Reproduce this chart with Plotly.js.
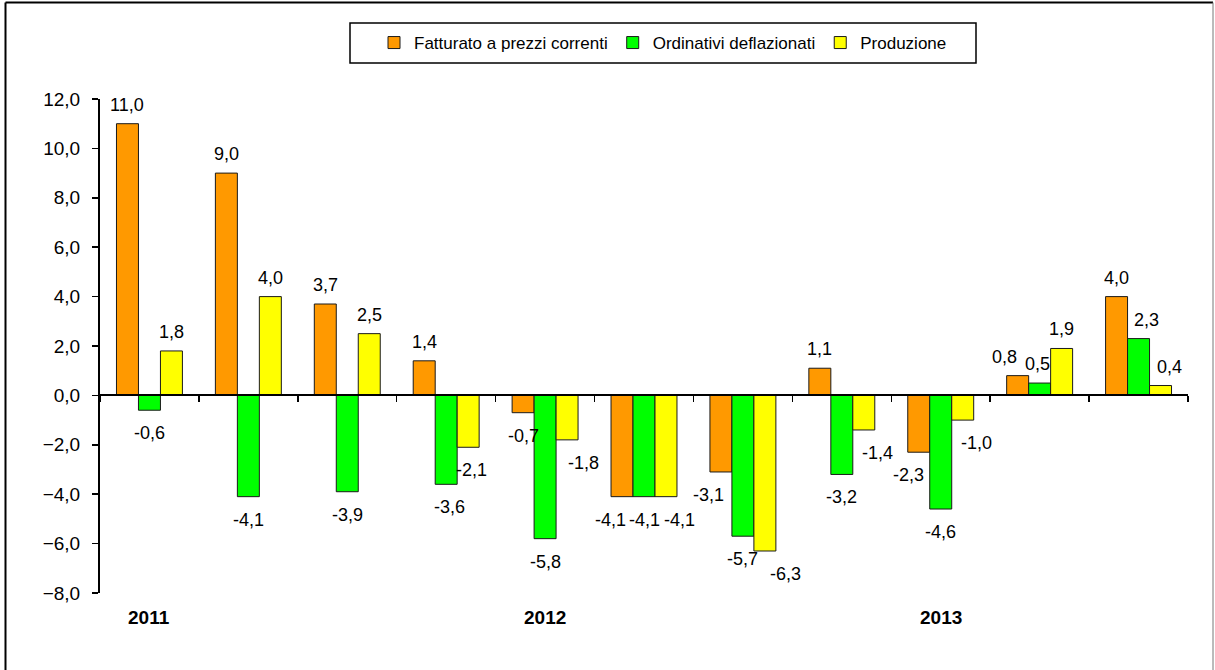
<!DOCTYPE html>
<html>
<head>
<meta charset="utf-8">
<script src="https://cdn.plot.ly/plotly-3.0.1.min.js"></script>
<style>html,body{margin:0;padding:0;background:#fff;}#chart{width:1215px;height:670px;}</style>
</head>
<body>
<div id="chart"></div>
<script>
// ---- data ----
const periods = [0, 1, 2, 3, 4, 5, 6, 7, 8, 9, 10];
const yearLabels = ["2011", "2012", "2013"];
const yearPositions = [0, 4, 8];
const seriesNames = ["Fatturato a prezzi correnti", "Ordinativi deflazionati", "Produzione"];
const fatturato = [11.0, 9.0, 3.7, 1.4, -0.7, -4.1, -3.1, 1.1, -2.3, 0.8, 4.0];
const ordinativi = [-0.6, -4.1, -3.9, -3.6, -5.8, -4.1, -5.7, -3.2, -4.6, 0.5, 2.3];
const produzione = [1.8, 4.0, 2.5, -2.1, -1.8, -4.1, -6.3, -1.4, -1.0, 1.9, 0.4];
const yTicks = [-8, -6, -4, -2, 0, 2, 4, 6, 8, 10, 12];

// ---- styling ----
const colors = ["#FF9900", "#00FF00", "#FFFF00"];
const seriesValues = [fatturato, ordinativi, produzione];
// horizontal label nudges in pixels (mirrors the hand-placed labels of the original)
const labelNudgeX = [
  [0, 0, 0, 0, 0, -12, -12, 0, -10, -13, 0],
  [0, 0, 0, 3, 0, 0, 0, 0, 0, -2, 8],
  [0, 0, 0, 3, 16, 14, 21, 14, 14, 0, 9]
];
const W = 1215, H = 670;
const mL = 100, mR = 27, mT = 99, mB = 77;
const plotW = W - mL - mR, plotH = H - mT - mB;
const px2x = p => (p - mL) / plotW;
const py2y = p => (H - mB - p) / plotH;
const font = "Arial, 'Liberation Sans', sans-serif";
const bargap = 1 / 3;
const barW = (1 - bargap) / 3;

const traces = seriesValues.map((vals, s) => ({
  type: "bar",
  name: seriesNames[s],
  x: periods,
  y: vals,
  marker: {color: colors[s], line: {color: "#1a1a1a", width: 1}},
  hoverinfo: "y+name"
}));

const fmt = v => v.toFixed(1).replace(".", ",");
const annotations = [];
seriesValues.forEach((vals, s) => {
  vals.forEach((v, i) => {
    annotations.push({
      x: periods[i] + (s - 1) * barW,
      y: v,
      xref: "x", yref: "y",
      text: fmt(v),
      showarrow: false,
      xanchor: "center", yanchor: "middle",
      xshift: labelNudgeX[s][i],
      yshift: v >= 0 ? 19 : -23,
      font: {family: font, size: 18, color: "#000"}
    });
  });
});
yearLabels.forEach((t, k) => {
  annotations.push({
    x: yearPositions[k], y: py2y(617),
    xref: "x", yref: "paper",
    text: "<b>" + t + "</b>",
    showarrow: false, xanchor: "center", yanchor: "middle",
    font: {family: font, size: 19, color: "#000"}
  });
});

const boundaries = periods.map(p => p - 0.5).concat([periods[periods.length - 1] + 0.5]);

const layout = {
  width: W, height: H,
  margin: {l: mL, r: mR, t: mT, b: mB, pad: 0},
  paper_bgcolor: "#fff", plot_bgcolor: "rgba(0,0,0,0)",
  separators: ",.",
  barmode: "group", bargap: bargap, bargroupgap: 0,
  showlegend: true,
  legend: {
    orientation: "h",
    x: px2x(374), xanchor: "left",
    y: py2y(43), yanchor: "middle",
    bgcolor: "rgba(0,0,0,0)", borderwidth: 0,
    font: {family: font, size: 17, color: "#000"},
    traceorder: "normal"
  },
  xaxis: {
    type: "linear",
    range: [-0.5, periods.length - 0.5],
    anchor: "free", position: 8 / 20,
    showgrid: false, zeroline: false,
    showline: true, linecolor: "#000", linewidth: 2,
    ticks: "outside", ticklen: 6, tickwidth: 1.5, tickcolor: "#000",
    tickmode: "array", tickvals: boundaries,
    showticklabels: false, fixedrange: true
  },
  yaxis: {
    range: [-8, 12],
    tickmode: "array", tickvals: yTicks,
    tickformat: ".1f",
    showgrid: false, zeroline: false,
    showline: true, linecolor: "#000", linewidth: 2,
    ticks: "outside", ticklen: 6, tickwidth: 1.5, tickcolor: "#000",
    ticklabelstandoff: 8,
    tickfont: {family: font, size: 19, color: "#000"},
    fixedrange: true
  },
  annotations: annotations,
  shapes: [
    {type: "line", xref: "paper", yref: "paper",
     x0: px2x(5.5), x1: px2x(5.5), y0: py2y(690), y1: py2y(2.5),
     line: {color: "#000", width: 2}, layer: "below"},
    {type: "line", xref: "paper", yref: "paper",
     x0: px2x(5.5), x1: px2x(1213), y0: py2y(2.5), y1: py2y(2.5),
     line: {color: "#000", width: 2}, layer: "below"},
    {type: "line", xref: "paper", yref: "paper",
     x0: px2x(1213), x1: px2x(1213), y0: py2y(690), y1: py2y(2.5),
     line: {color: "#777", width: 1}, layer: "below"},
    {type: "rect", xref: "paper", yref: "paper",
     x0: px2x(350), x1: px2x(976), y0: py2y(63), y1: py2y(23),
     line: {color: "#000", width: 1.5}, fillcolor: "rgba(0,0,0,0)", layer: "below"}
  ]
};

Plotly.newPlot("chart", traces, layout, {displayModeBar: false, staticPlot: true});
</script>
</body>
</html>
